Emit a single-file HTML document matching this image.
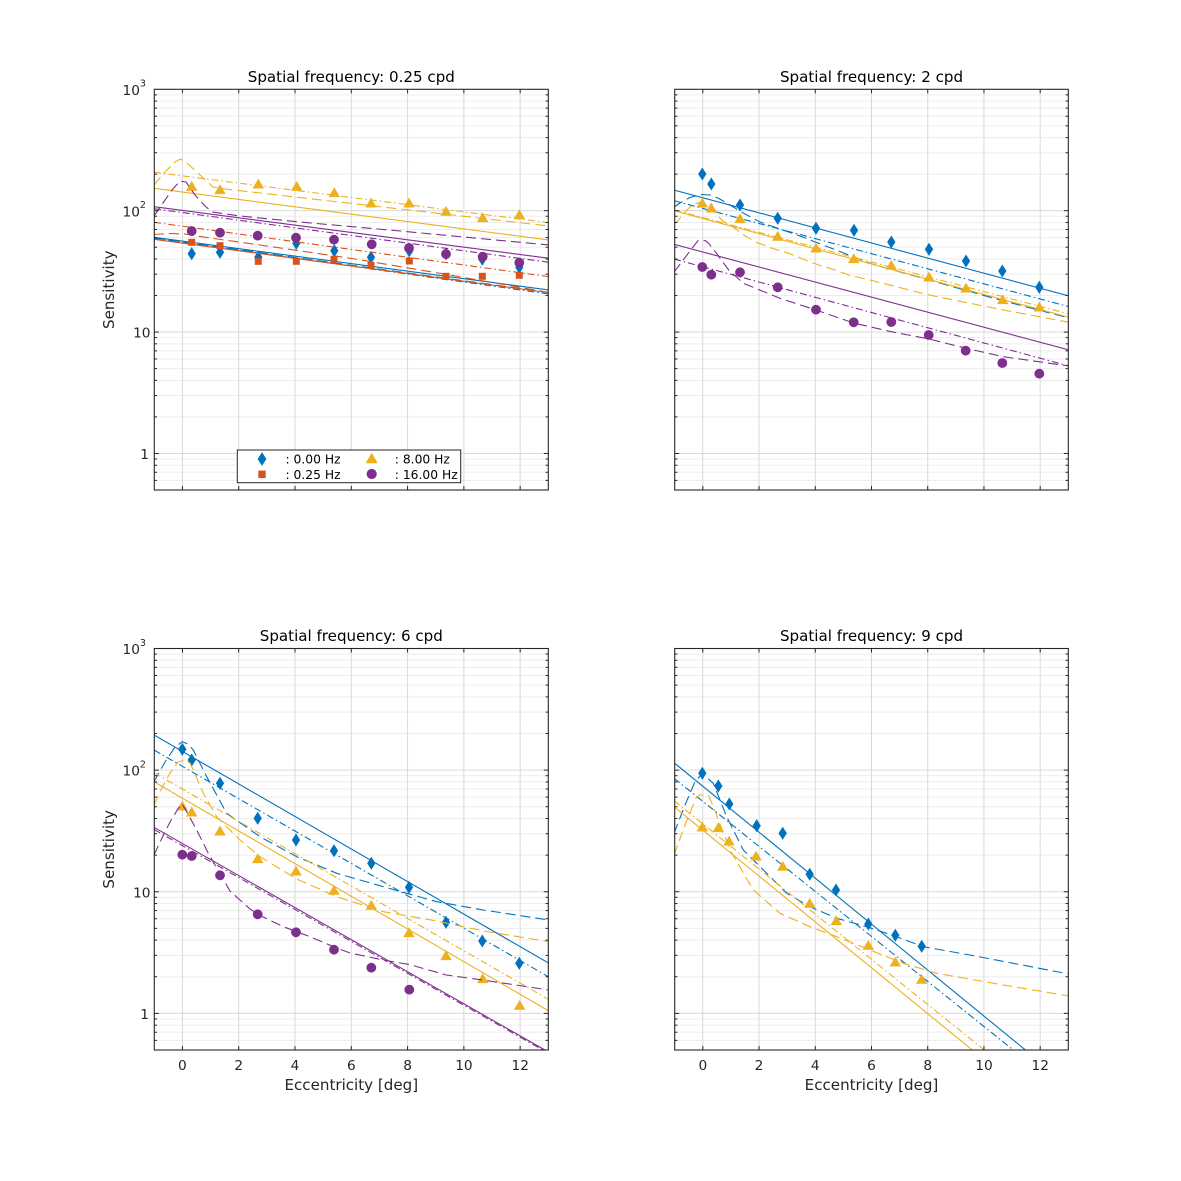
<!DOCTYPE html>
<html><head><meta charset="utf-8">
<style>
html,body{margin:0;padding:0;background:#fff;}
svg{display:block;}
text{font-family:"DejaVu Sans","Liberation Sans",sans-serif;fill:#262626;}
.tk{font-size:13.7px;}
.sp{font-size:9.5px;}
.ti{font-size:15.1px;fill:#000;}
.lb{font-size:15.1px;}
.lg{font-size:12.3px;fill:#000;}
</style></head><body>
<svg id="s" width="1181" height="1181" viewBox="0 0 1181 1181" xmlns="http://www.w3.org/2000/svg">
<rect width="1181" height="1181" fill="#fff"/>
<defs id="defs"></defs>
<g id="grid"></g>
<g id="data"></g>
<g id="frame"></g>

<!-- Legend -->
<g id="legend">
<rect x="237.3" y="450" width="223.4" height="32.7" fill="#fff" stroke="#262626" stroke-width="1"/>
<path d="M262,453 L265.8,459 L262,465 L258.2,459 Z" fill="#0072BD" stroke="#0072BD"/>
<rect x="258.8" y="471.1" width="6.4" height="6.4" fill="#D95319" stroke="#D95319"/>
<path d="M371.7,453.8 L376.9,462.8 L366.5,462.8 Z" fill="#EDB120" stroke="#EDB120"/>
<circle cx="371.7" cy="474" r="4.6" fill="#7E2F8E" stroke="#7E2F8E"/>
<text class="lg" x="285.5" y="463.5">: 0.00 Hz</text>
<text class="lg" x="285.5" y="478.8">: 0.25 Hz</text>
<text class="lg" x="394.8" y="463.5">: 8.00 Hz</text>
<text class="lg" x="394.8" y="478.8">: 16.00 Hz</text>
</g>

<!-- Titles -->
<text class="ti" x="351.3" y="82" text-anchor="middle">Spatial frequency: 0.25 cpd</text>
<text class="ti" x="871.5" y="82" text-anchor="middle">Spatial frequency: 2 cpd</text>
<text class="ti" x="351.3" y="641" text-anchor="middle">Spatial frequency: 6 cpd</text>
<text class="ti" x="871.5" y="641" text-anchor="middle">Spatial frequency: 9 cpd</text>

<!-- Y labels -->
<text class="lb" transform="translate(114,289.7) rotate(-90)" text-anchor="middle">Sensitivity</text>
<text class="lb" transform="translate(114,849.3) rotate(-90)" text-anchor="middle">Sensitivity</text>

<!-- X labels -->
<text class="lb" x="351.3" y="1090" text-anchor="middle">Eccentricity [deg]</text>
<text class="lb" x="871.5" y="1090" text-anchor="middle">Eccentricity [deg]</text>

<!-- Y tick labels top-left -->
<text class="tk" x="122.5" y="95">10<tspan class="sp" dy="-8.3">3</tspan></text>
<text class="tk" x="122.5" y="216.3">10<tspan class="sp" dy="-8.3">2</tspan></text>
<text class="tk" x="150.5" y="337.6" text-anchor="end">10</text>
<text class="tk" x="149" y="459" text-anchor="end">1</text>
<!-- Y tick labels bottom-left -->
<text class="tk" x="122.5" y="654.2">10<tspan class="sp" dy="-8.3">3</tspan></text>
<text class="tk" x="122.5" y="775.7">10<tspan class="sp" dy="-8.3">2</tspan></text>
<text class="tk" x="150.5" y="897.3" text-anchor="end">10</text>
<text class="tk" x="149" y="1018.9" text-anchor="end">1</text>

<!-- X tick labels bottom-left -->
<text class="tk" x="182.4" y="1070" text-anchor="middle">0</text>
<text class="tk" x="238.7" y="1070" text-anchor="middle">2</text>
<text class="tk" x="295" y="1070" text-anchor="middle">4</text>
<text class="tk" x="351.3" y="1070" text-anchor="middle">6</text>
<text class="tk" x="407.6" y="1070" text-anchor="middle">8</text>
<text class="tk" x="463.9" y="1070" text-anchor="middle">10</text>
<text class="tk" x="520.2" y="1070" text-anchor="middle">12</text>
<!-- X tick labels bottom-right -->
<text class="tk" x="702.8" y="1070" text-anchor="middle">0</text>
<text class="tk" x="759" y="1070" text-anchor="middle">2</text>
<text class="tk" x="815.2" y="1070" text-anchor="middle">4</text>
<text class="tk" x="871.5" y="1070" text-anchor="middle">6</text>
<text class="tk" x="927.7" y="1070" text-anchor="middle">8</text>
<text class="tk" x="984" y="1070" text-anchor="middle">10</text>
<text class="tk" x="1040.2" y="1070" text-anchor="middle">12</text>
</svg>
<script>
(function(){
var NS="http://www.w3.org/2000/svg";
function el(tag,attrs,parent){var e=document.createElementNS(NS,tag);for(var k in attrs)e.setAttribute(k,attrs[k]);parent.appendChild(e);return e;}
var svg=document.getElementById('s');
var grid=document.getElementById('grid'),frame=document.getElementById('frame'),data=document.getElementById('data'),defs=document.getElementById('defs');
var legend=document.getElementById('legend');
var P=[{L:154.3,T:89.3,R:548.3,B:490},{L:674.7,T:89.3,R:1068.3,B:490},{L:154.3,T:648.5,R:548.3,B:1050},{L:674.7,T:648.5,R:1068.3,B:1050}];
var FR='#262626';
P.forEach(function(p,i){
  var W=p.R-p.L,H=p.B-p.T;
  var X=function(e){return p.L+(e+1)/14*W;};
  var Y=function(v){return p.T+(3-Math.log10(v))/Math.log10(2000)*H;};
  for(var d=-1;d<=2;d++){for(var k=2;k<=9;k++){var v=k*Math.pow(10,d);if(v<=0.5||v>=1000)continue;var y=Y(v);
    el('line',{x1:p.L,x2:p.R,y1:y,y2:y,stroke:'#ededed','stroke-width':1},grid);
    el('line',{x1:p.L,x2:p.L+2.7,y1:y,y2:y,stroke:FR,'stroke-width':1},frame);
    el('line',{x1:p.R-2.7,x2:p.R,y1:y,y2:y,stroke:FR,'stroke-width':1},frame);
  }}
  [1,10,100].forEach(function(v){var y=Y(v);
    el('line',{x1:p.L,x2:p.R,y1:y,y2:y,stroke:'#d9d9d9','stroke-width':1},grid);
    el('line',{x1:p.L,x2:p.L+4.5,y1:y,y2:y,stroke:FR,'stroke-width':1},frame);
    el('line',{x1:p.R-4.5,x2:p.R,y1:y,y2:y,stroke:FR,'stroke-width':1},frame);
  });
  for(var e=0;e<=12;e+=2){var x=X(e);
    el('line',{x1:x,x2:x,y1:p.T,y2:p.B,stroke:'#d9d9d9','stroke-width':1},grid);
    el('line',{x1:x,x2:x,y1:p.B-4,y2:p.B,stroke:FR,'stroke-width':1},frame);
    el('line',{x1:x,x2:x,y1:p.T,y2:p.T+4,stroke:FR,'stroke-width':1},frame);
  }
  el('rect',{x:p.L,y:p.T,width:W,height:H,fill:'none',stroke:FR,'stroke-width':1.1},frame);
  var cp=el('clipPath',{id:'c'+i},defs);
  el('rect',{x:p.L,y:p.T,width:W,height:H},cp);
});
var C={b:'#0072BD',r:'#D95319',y:'#EDB120',p:'#7E2F8E'};
var DASH={s:null,d:'10,5',dd:'7,3,1.5,3'};
function line(g,pts,col,sty){var a={points:pts.map(function(q){return q[0]+','+q[1];}).join(' '),fill:'none',stroke:col,'stroke-width':1.1,'stroke-linejoin':'round'};if(DASH[sty])a['stroke-dasharray']=DASH[sty];el('polyline',a,g);}
function mk(g,pts,col,shape){pts.forEach(function(q){var x=q[0],y=q[1];
  if(shape==='d')el('path',{d:'M'+x+','+(y-6)+' L'+(x+3.8)+','+y+' L'+x+','+(y+6)+' L'+(x-3.8)+','+y+' Z',fill:col,stroke:col,'stroke-width':0.6},g);
  else if(shape==='s')el('rect',{x:x-3.2,y:y-3.2,width:6.4,height:6.4,fill:col,stroke:col,'stroke-width':0.6},g);
  else if(shape==='t')el('path',{d:'M'+x+','+(y-4.5)+' L'+(x+5.2)+','+(y+4.5)+' L'+(x-5.2)+','+(y+4.5)+' Z',fill:col,stroke:col,'stroke-width':0.6},g);
  else el('circle',{cx:x,cy:y,r:4.6,fill:col,stroke:col,'stroke-width':0.6},g);
});}
var D=[
 [
  {c:'b',m:'d',pts:[[191.7,253.7],[220,252.3],[258.3,257.3],[296.3,243.3],[334.3,250.7],[371,257.3],[409.3,250.7],[446,254],[482.3,259.3],[519.3,267.3]],
   L:[['s',[[154,237.3],[549,290]]],['dd',[[154,238.3],[549,294]]],['d',[[154,238],[549,292.5]]]]},
  {c:'r',m:'s',pts:[[191.7,242.3],[220,245.7],[258.3,261.3],[296.3,261.3],[334,259.3],[371,265.3],[409.3,261],[446,276.3],[482.3,276.3],[519.3,275.3]],
   L:[['s',[[154,239.3],[549,292.7]]],['d',[[154,234.5],[170,233.5],[185,234],[210,238],[260,245],[352,258.5],[450,275],[549,292.5]]],['dd',[[154,222.3],[549,276.7]]]]},
  {c:'y',m:'t',pts:[[191.7,186],[220,189.3],[258.3,183.7],[296.7,186],[334.3,192.3],[371,202.7],[409,202.7],[446,211],[482.7,217.3],[519.3,214.3]],
   L:[['s',[[154,188.3],[549,240]]],['dd',[[154,172.3],[549,222.7]]],['d',[[154,185],[165,172],[175,162],[180.5,159],[188,164],[200,175],[213,187],[225,189],[549,226]]]]},
  {c:'p',m:'o',pts:[[191.7,231],[220,232.7],[257.7,235.7],[296,237.7],[334,239.7],[371.7,244.3],[409,248],[446,254],[482.7,256.7],[519.3,262.7]],
   L:[['s',[[154,206.7],[549,258.3]]],['dd',[[154,208.7],[549,262.3]]],['d',[[154,216],[163,203],[172,190],[180,181],[186,182],[195,195],[205,206],[212,212],[240,216],[300,222],[400,231],[549,245]]]]}
 ],
 [
  {c:'b',m:'d',pts:[[702.3,174],[711.3,184],[740,205],[777.7,218.3],[816,228.3],[854,230.3],[891.3,242],[929,249.3],[966,261],[1002.3,271],[1039.3,287.3]],
   L:[['s',[[674,190],[1069,296]]],['dd',[[674,200.7],[1069,306.7]]],['d',[[674,207],[680,203],[690,197.5],[700,194.5],[710,195],[718,198],[730,205],[745,214],[760,222],[800,236],[872,264],[1000,300],[1069,318]]]]},
  {c:'y',m:'t',pts:[[702.3,202.7],[711.3,207.7],[740,218.3],[777.7,236],[816,247.7],[853.7,258.3],[891.3,265],[929,276.7],[966,287.7],[1002.7,299.3],[1039.3,306.7]],
   L:[['s',[[674,210.7],[1069,317.3]]],['dd',[[674,210],[1069,314]]],['d',[[674,224],[677,221.7],[685.3,211.7],[692,205],[702,201.7],[709,205],[715.3,213.3],[723.7,221.7],[730.3,225],[743.7,235],[755.3,241.7],[772,248.3],[788.7,253.3],[805.3,260],[818.7,265],[835.3,270],[848.7,275],[870,280],[929,295],[1003.3,310],[1069,322.3]]]]},
  {c:'p',m:'o',pts:[[702.3,267],[711.3,274.7],[740,272.3],[777.7,287.3],[816,309.7],[853.7,322.3],[891.3,322],[928.7,335],[965.7,350.7],[1002.3,363],[1039.3,373.7]],
   L:[['s',[[674,244.3],[1069,350]]],['dd',[[674,259],[1069,366]]],['d',[[674,272],[677,268.3],[692,248.3],[698,240.7],[705.3,240.7],[708.7,243.3],[715.3,251.7],[728.7,270],[743.3,283.3],[780,298.3],[816,310],[853.7,323],[891.3,331.7],[929,339],[966,348.3],[1003.3,356.7],[1069,366]]]]}
 ],
 [
  {c:'b',m:'d',pts:[[182.3,749.3],[191.7,760],[220,783.3],[257.7,818.3],[296,840],[334,850.7],[371.3,863.3],[409,887.3],[446,922.3],[482.3,941],[519.3,963.3]],
   L:[['s',[[154,735],[549,963.3]]],['dd',[[154,750],[549,977.1]]],['d',[[154,781.7],[165,762],[175,747],[182.3,741.7],[188,744],[193.3,750],[206.7,776.7],[226.7,813.3],[260,836.7],[296.7,856.7],[336.7,873.3],[383.3,886.7],[436.7,901.7],[483.3,910],[549,920]]]]},
  {c:'y',m:'t',pts:[[182.3,805.7],[191.7,811.7],[220,830.7],[257.7,858.3],[296,870.7],[334,890],[371.3,905],[409,932.3],[446,955.3],[482.7,978.3],[519.7,1005]],
   L:[['s',[[154,781.7],[549,1011.1]]],['dd',[[154,772.7],[549,999.7]]],['d',[[154,805],[162,788],[170,773],[178,762],[185,760],[190,763],[193.3,770],[203.3,793.3],[216.7,816.7],[240,840],[260,856.7],[296.7,879],[336.7,896.7],[383.3,911.7],[436.7,921],[483.3,931],[549,941.7]]]]},
  {c:'p',m:'o',pts:[[182.3,854.7],[191.7,856],[220,875.3],[257.7,914.3],[296,932.3],[334,949.7],[371.3,967.7],[409.3,989.7]],
   L:[['s',[[154,827.3],[549,1052.3]]],['dd',[[154,829.5],[549,1053.5]]],['d',[[154,855],[162,838],[170,822],[178.3,808.3],[181.7,803.5],[186.7,811.7],[196.7,830],[208.3,853.3],[230,891],[250,909],[260,915.5],[283.3,926.7],[310,936.7],[336.7,948],[350,953],[383.3,960],[409.3,964.5],[446.3,975],[482.7,980],[549,990]]]]}
 ],
 [
  {c:'b',m:'d',pts:[[702.3,773.3],[718.3,786],[729.3,804],[756.7,825.7],[782.7,833.3],[809.7,874.3],[836,890],[868.3,924],[895.3,935.3],[921.7,946.3]],
   L:[['s',[[674,762.7],[1069,1085.6]]],['dd',[[674,778.3],[1069,1094.6]]],['d',[[674,833.3],[685,805],[695,781.7],[702.3,773.3],[713.3,783.3],[726.7,816.7],[743.3,850],[766.7,873.3],[786.7,893.3],[810,906.7],[836.7,918.3],[866.7,926.7],[896.7,936.7],[923.3,946.7],[970,955],[1069,974]]]]},
  {c:'y',m:'t',pts:[[702.3,826.7],[718.3,827.3],[729,840.7],[756,855.7],[782.7,866],[809.7,903],[836.3,920.3],[868.3,945],[895.3,961.7],[921.7,979]],
   L:[['s',[[674,806.7],[1069,1128.9]]],['dd',[[674,800.7],[1069,1118]]],['d',[[674,855],[685,825],[696.7,796.7],[700,795],[708.3,795],[713.3,806.7],[730,850],[753.3,890],[780,913.3],[810,926.7],[836.7,936.7],[870,950],[903.3,963.3],[936.7,973.3],[1003.3,985],[1069,996]]]]}
 ]
];
D.forEach(function(panel,i){
  var g=el('g',{'clip-path':'url(#c'+i+')'},data);
  panel.forEach(function(s){
    mk(g,s.pts,C[s.c],s.m);
    s.L.forEach(function(l){line(g,l[1],C[s.c],l[0]);});
  });
});
svg.appendChild(legend);
})();
</script>
</body></html>
